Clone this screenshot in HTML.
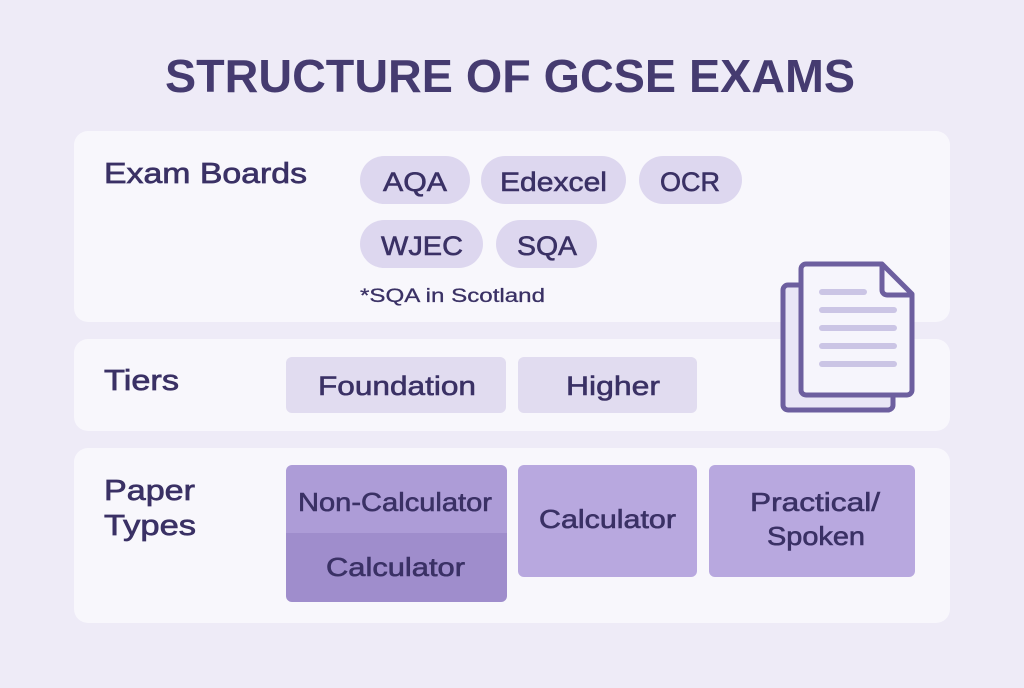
<!DOCTYPE html>
<html><head><meta charset="utf-8"><style>
body{margin:0;width:1024px;height:683px;background:#eeebf7;overflow:hidden;font-family:"Liberation Sans",sans-serif}
</style></head><body>
<svg width="1024" height="683" xmlns="http://www.w3.org/2000/svg" font-family="Liberation Sans, sans-serif">
<rect width="1024" height="683" fill="#eeebf7"/>
<text x="510" y="92" text-anchor="middle" font-size="46" font-weight="bold" fill="#453b70" textLength="690" lengthAdjust="spacingAndGlyphs">STRUCTURE OF GCSE EXAMS</text>
<rect x="74" y="131" width="876" height="191" rx="14" fill="#f8f7fc"/>
<rect x="74" y="339" width="876" height="92" rx="14" fill="#f8f7fc"/>
<rect x="74" y="448" width="876" height="175" rx="14" fill="#f8f7fc"/>
<g font-size="29" fill="#3a3165" stroke="#3a3165" stroke-width="0.7">
<text x="104" y="183" textLength="203" lengthAdjust="spacingAndGlyphs">Exam Boards</text>
<text x="104" y="390" textLength="75" lengthAdjust="spacingAndGlyphs">Tiers</text>
<text x="104" y="500" textLength="91" lengthAdjust="spacingAndGlyphs">Paper</text>
<text x="104" y="535" textLength="92" lengthAdjust="spacingAndGlyphs">Types</text>
</g>
<g fill="#ddd7ef">
<rect x="360" y="156" width="110" height="48" rx="24"/>
<rect x="481" y="156" width="145" height="48" rx="24"/>
<rect x="639" y="156" width="103" height="48" rx="24"/>
<rect x="360" y="220" width="123" height="48" rx="24"/>
<rect x="496" y="220" width="101" height="48" rx="24"/>
<rect x="286" y="357" width="220" height="56" rx="6" fill="#e1dcf0"/>
<rect x="518" y="357" width="179" height="56" rx="6" fill="#e1dcf0"/>
</g>
<g font-size="27" fill="#3a3165" stroke="#3a3165" stroke-width="0.6" lengthAdjust="spacingAndGlyphs">
<text x="383" y="191" textLength="64" lengthAdjust="spacingAndGlyphs">AQA</text>
<text x="500" y="191" textLength="107" lengthAdjust="spacingAndGlyphs">Edexcel</text>
<text x="660" y="191" textLength="60" lengthAdjust="spacingAndGlyphs">OCR</text>
<text x="381" y="255" textLength="82" lengthAdjust="spacingAndGlyphs">WJEC</text>
<text x="517" y="255" textLength="60" lengthAdjust="spacingAndGlyphs">SQA</text>
<text x="318" y="395" textLength="158" lengthAdjust="spacingAndGlyphs">Foundation</text>
<text x="566" y="395" textLength="94" lengthAdjust="spacingAndGlyphs">Higher</text>
</g>
<text x="360" y="302" font-size="19" fill="#3a3165" stroke="#3a3165" stroke-width="0.3" textLength="185" lengthAdjust="spacingAndGlyphs">*SQA in Scotland</text>
<path d="M286 471a6 6 0 0 1 6-6h209a6 6 0 0 1 6 6v62h-221z" fill="#ad9cd7"/>
<path d="M286 533h221v63a6 6 0 0 1-6 6h-209a6 6 0 0 1-6-6z" fill="#9f8dcc"/>
<rect x="518" y="465" width="179" height="112" rx="6" fill="#b8a8df"/>
<rect x="709" y="465" width="206" height="112" rx="6" fill="#b8a8df"/>
<g font-size="26" fill="#3a3165" stroke="#3a3165" stroke-width="0.6">
<text x="298" y="511" textLength="194" lengthAdjust="spacingAndGlyphs">Non-Calculator</text>
<text x="326" y="576" textLength="139" lengthAdjust="spacingAndGlyphs">Calculator</text>
<text x="539" y="528" textLength="137" lengthAdjust="spacingAndGlyphs">Calculator</text>
<text x="750" y="511" textLength="130" lengthAdjust="spacingAndGlyphs">Practical/</text>
<text x="767" y="545" textLength="98" lengthAdjust="spacingAndGlyphs">Spoken</text>
</g>
<g stroke="#6d5f9f" stroke-width="5" stroke-linejoin="round">
<rect x="783" y="285" width="110" height="125" rx="5" fill="#e9e6f6"/>
<path d="M806 264h76l30 30v96a5 5 0 0 1-5 5h-101a5 5 0 0 1-5-5v-121a5 5 0 0 1 5-5z" fill="#f6f5fc"/>
<path d="M882 264v26a5 5 0 0 0 5 5h25" fill="none"/>
</g>
<g stroke="#cbc5e5" stroke-width="6" stroke-linecap="round">
<line x1="822" y1="292" x2="864" y2="292"/>
<line x1="822" y1="310" x2="894" y2="310"/>
<line x1="822" y1="328" x2="894" y2="328"/>
<line x1="822" y1="346" x2="894" y2="346"/>
<line x1="822" y1="364" x2="894" y2="364"/>
</g>
</svg>
</body></html>
